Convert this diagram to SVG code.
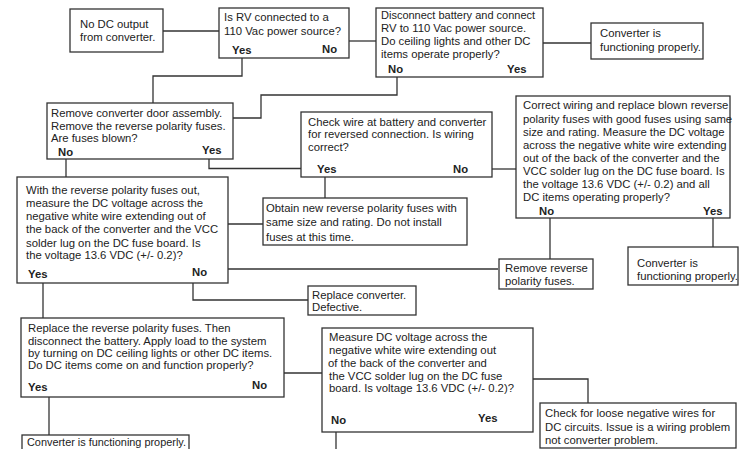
<svg xmlns="http://www.w3.org/2000/svg" width="740" height="449" viewBox="0 0 740 449">
<style>
rect{fill:#fff;stroke:#333;stroke-width:1.3}
text{font-family:"Liberation Sans",Arial,sans-serif;font-size:11.3px;fill:#222}
.b{font-weight:bold}
#connectors path{fill:none;stroke:#333;stroke-width:1.3}
</style>
<rect x="0" y="0" width="740" height="449" style="stroke:none"/>
<g id="connectors">
<path d="M163,31H219"/>
<path d="M242,58V76H153V103"/>
<path d="M349,41H376"/>
<path d="M543,43H591"/>
<path d="M397,77V95H261V118H233"/>
<path d="M209,159V168.5H301"/>
<path d="M66,159V177"/>
<path d="M325,177V198"/>
<path d="M492,169H516"/>
<path d="M550,218V259"/>
<path d="M713,218V247"/>
<path d="M228,224H263"/>
<path d="M228,269H498"/>
<path d="M193,283V300H308"/>
<path d="M43,283V318"/>
<path d="M49,397V435"/>
<path d="M284,373H322"/>
<path d="M533,379H588V403"/>
<path d="M336,432V449"/>
</g>
<g id="n1"><rect x="70" y="9" width="93" height="43"/>
<text x="80" y="28">No DC output</text><text x="80" y="41">from converter.</text></g>
<g id="n2"><rect x="219" y="8" width="130" height="50"/>
<text x="224" y="21">Is RV connected to a</text><text x="224" y="35">110 Vac power source?</text>
<text class="b" x="232" y="54">Yes</text><text class="b" x="322" y="53">No</text></g>
<g id="n3"><rect x="376" y="8" width="167" height="69"/>
<text x="381" y="19" style="font-size:11px">Disconnect battery and connect</text><text x="381" y="32">RV to 110 Vac power source.</text>
<text x="381" y="45">Do ceiling lights and other DC</text><text x="381" y="58">items operate properly?</text>
<text class="b" x="388" y="73">No</text><text class="b" x="507" y="73">Yes</text></g>
<g id="n4"><rect x="591" y="23" width="112" height="36"/>
<text x="600" y="37">Converter is</text><text x="600" y="51">functioning properly.</text></g>
<g id="n5"><rect x="47" y="103" width="186" height="56"/>
<text x="51" y="117">Remove converter door assembly.</text><text x="51" y="130">Remove the reverse polarity fuses.</text>
<text x="51" y="142">Are fuses blown?</text>
<text class="b" x="58" y="156">No</text><text class="b" x="202" y="154">Yes</text></g>
<g id="n6"><rect x="301" y="112" width="191" height="65"/>
<text x="308" y="126">Check wire at battery and converter</text><text x="308" y="138">for reversed connection. Is wiring</text>
<text x="308" y="151">correct?</text>
<text class="b" x="317" y="173">Yes</text><text class="b" x="453" y="173">No</text></g>
<g id="n7"><rect x="516" y="96" width="214" height="122"/>
<text x="523" y="109">Correct wiring and replace blown reverse</text>
<text x="523" y="123">polarity fuses with good fuses using same</text>
<text x="523" y="136">size and rating. Measure the DC voltage</text>
<text x="523" y="149">across the negative white wire extending</text>
<text x="523" y="162">out of the back of the converter and the</text>
<text x="523" y="175">VCC solder lug on the DC fuse board. Is</text>
<text x="523" y="188">the voltage 13.6 VDC (+/- 0.2) and all</text>
<text x="523" y="201">DC items operating properly?</text>
<text class="b" x="539" y="215">No</text><text class="b" x="703" y="215">Yes</text></g>
<g id="n8"><rect x="17" y="177" width="211" height="106"/>
<text x="26" y="194">With the reverse polarity fuses out,</text>
<text x="26" y="207">measure the DC voltage across the</text>
<text x="26" y="220">negative white wire extending out of</text>
<text x="26" y="233">the back of the converter and the VCC</text>
<text x="26" y="247">solder lug on the DC fuse board. Is</text>
<text x="26" y="259">the voltage 13.6 VDC (+/- 0.2)?</text>
<text class="b" x="28" y="278">Yes</text><text class="b" x="192" y="276">No</text></g>
<g id="n9"><rect x="263" y="198" width="204" height="47"/>
<text x="266" y="212">Obtain new reverse polarity fuses with</text>
<text x="266" y="226">same size and rating. Do not install</text>
<text x="266" y="241">fuses at this time.</text></g>
<g id="n10"><rect x="499" y="259" width="94" height="30"/>
<text x="505" y="272">Remove reverse</text><text x="505" y="285">polarity fuses.</text></g>
<g id="n11"><rect x="628" y="247" width="110" height="38"/>
<text x="637" y="267">Converter is</text><text x="637" y="280">functioning properly.</text></g>
<g id="n12"><rect x="308" y="286" width="108" height="29"/>
<text x="312" y="299">Replace converter.</text><text x="312" y="311">Defective.</text></g>
<g id="n13"><rect x="21" y="318" width="263" height="79"/>
<text x="28" y="332">Replace the reverse polarity fuses. Then</text>
<text x="28" y="345">disconnect the battery. Apply load to the system</text>
<text x="28" y="357">by turning on DC ceiling lights or other DC items.</text>
<text x="28" y="369">Do DC items come on and function properly?</text>
<text class="b" x="28" y="391">Yes</text><text class="b" x="252" y="389">No</text></g>
<g id="n14"><rect x="22" y="435" width="167" height="20"/>
<text x="27" y="446" style="font-size:10.9px">Converter is functioning properly.</text></g>
<g id="n15"><rect x="322" y="328" width="211" height="104"/>
<text x="329" y="341">Measure DC voltage across the</text>
<text x="329" y="354">negative white wire extending out</text>
<text x="328" y="367">of the back of the converter and</text>
<text x="329" y="380">the VCC solder lug on the DC fuse</text>
<text x="329" y="392">board. Is voltage 13.6 VDC (+/- 0.2)?</text>
<text class="b" x="331" y="424">No</text><text class="b" x="478" y="422">Yes</text></g>
<g id="n16"><rect x="540" y="403" width="196" height="45"/>
<text x="545" y="417">Check for loose negative wires for</text>
<text x="545" y="431">DC circuits. Issue is a wiring problem</text>
<text x="545" y="444">not converter problem.</text></g>
</svg>
